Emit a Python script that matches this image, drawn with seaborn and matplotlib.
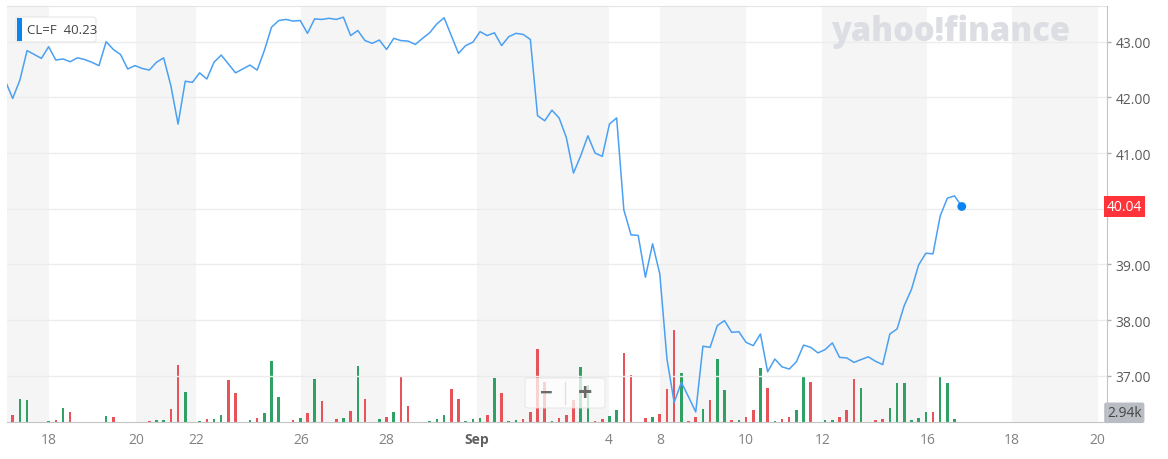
import numpy as np
import pandas as pd
import seaborn as sns
import matplotlib.pyplot as plt
from matplotlib.lines import Line2D
from matplotlib.patches import FancyBboxPatch, Rectangle

# CL=F, 4-hour bars (weekend gaps removed), Aug 17 - Sep 16
price = [42.29, 41.98, 42.31, 42.84, 42.77, 42.70, 42.91, 42.67, 42.69, 42.64,
         42.71, 42.68, 42.63, 42.57, 43.00, 42.86, 42.77, 42.51, 42.57, 42.52,
         42.49, 42.63, 42.71, 42.21, 41.52, 42.29, 42.27, 42.44, 42.33, 42.63,
         42.76, 42.60, 42.44, 42.51, 42.58, 42.49, 42.84, 43.26, 43.38, 43.40,
         43.37, 43.38, 43.15, 43.41, 43.40, 43.42, 43.40, 43.44, 43.11, 43.20,
         43.02, 42.97, 43.03, 42.86, 43.06, 43.02, 43.01, 42.95, 43.06, 43.16,
         43.32, 43.43, 43.11, 42.79, 42.93, 42.99, 43.18, 43.11, 43.16, 42.93,
         43.09, 43.15, 43.13, 43.04, 41.67, 41.58, 41.77, 41.63, 41.28, 40.64,
         40.95, 41.31, 41.00, 40.94, 41.52, 41.63, 39.98, 39.53, 39.52, 38.77,
         39.37, 38.83, 37.30, 36.52, 36.88, 36.62, 36.35, 37.53, 37.51, 37.90,
         37.99, 37.78, 37.79, 37.60, 37.54, 37.75, 37.07, 37.30, 37.16, 37.12,
         37.25, 37.55, 37.51, 37.41, 37.47, 37.59, 37.33, 37.32, 37.24, 37.29,
         37.34, 37.26, 37.20, 37.75, 37.84, 38.26, 38.55, 38.99, 39.20, 39.19,
         39.87, 40.19, 40.23, 40.04]

# volume in thousands (first point is off the left edge)
volume_k = [0,
            2.2, 7.4, 7.0, 0.1, 0.1, 0.3, 0.6, 4.5, 3.2, 0.1,
            0, 0, 0, 1.9, 1.6, 0, 0, 0, 0, 0.3,
            0.6, 0.6, 4.2, 18.2, 9.5, 0.1, 0.3, 1.0, 1.0, 2.2,
            13.3, 9.2, 0.1, 0.6, 1.3, 2.9, 19.5, 8.1, 0.1, 0.6,
            1.3, 2.9, 13.7, 6.8, 0.1, 1.0, 1.3, 3.5, 17.8, 7.5,
            0.1, 1.0, 1.6, 3.3, 14.6, 5.2, 0.1, 0.1, 0.3, 1.0,
            2.2, 10.5, 7.5, 0.3, 1.0, 1.3, 2.2, 14.0, 9.2, 0.3,
            0.6, 1.0, 3.3, 23.4, 12.9, 0.3, 1.3, 2.2, 7.0, 17.7,
            11.8, 0.3, 1.0, 1.8, 3.8, 22.0, 14.9, 0.1, 1.2, 1.6,
            2.5, 10.7, 29.3, 15.8, 0.3, 1.6, 4.1, 7.0, 20.3, 10.2,
            0.5, 0.5, 1.5, 3.8, 17.4, 11.0, 0.2, 0.9, 1.5, 3.8,
            14.8, 12.7, 0.1, 0.5, 0.5, 1.5, 3.8, 13.9, 10.9, 0.1,
            0.5, 0.9, 4.4, 12.6, 12.6, 0.5, 1.2, 3.2, 3.2, 14.5,
            12.4, 0.9, 0.1]

tick_pos = [6.05, 18.15, 26.5, 41.1, 52.9, 65.6, 83.9, 91.0, 103.0, 113.6, 128.2, 140.0, 151.9]
tick_labels = ['18', '20', '22', '26', '28', 'Sep', '4', '8', '10', '12', '16', '18', '20']
price_ticks = [37, 38, 39, 40, 41, 42, 43]

df = pd.DataFrame({'x': np.arange(len(price)), 'price': price, 'vol': volume_k})
df['dir'] = np.where(df['price'].diff().fillna(1) >= 0, 'up', 'down')

sns.set_style("white")
plt.rcParams['font.family'] = ['Open Sans', 'DejaVu Sans']

fig = plt.figure(figsize=(11.68, 4.6), dpi=100)
ax = fig.add_axes([7/1168, 37/460, 1100/1168, 416/460])
xmin, xmax = 0.21, 153.2

# alternating day bands
edges = [xmin] + tick_pos
for a, b in zip(edges[0::2], edges[1::2]):
    ax.axvspan(a, b, color='#f5f5f5', lw=0, zorder=0)

sns.barplot(data=df, x='x', y='vol', hue='dir', native_scale=True, dodge=False,
            palette={'up': '#1cb463', 'down': '#ff3a43'}, width=0.36,
            errorbar=None, legend=False, linewidth=0, ax=ax, zorder=2)
ax.set_xlim(xmin, xmax)
ax.set_ylim(0, 133)
ax.set_yticks([])
ax.set_xticks(tick_pos)
ax.set_xticklabels(tick_labels)
ax.tick_params(axis='x', length=4, width=1, color='#b8b8b8', pad=3,
               labelsize=10, labelcolor='#828282')
for lab in ax.get_xticklabels():
    if lab.get_text() == 'Sep':
        lab.set_fontweight('bold')
        lab.set_color('#606060')
ax.set_xlabel('')
ax.set_ylabel('')
for s in ['left', 'right']:
    ax.spines[s].set_visible(False)
ax.spines['top'].set_color('#e4e4e4')
ax.spines['bottom'].set_color('#c4c4c4')

# price on the right axis
ax2 = ax.twinx()
ax2.set_ylim(36.169, 43.641)
ax2.set_yticks(price_ticks)
ax2.set_yticklabels(['' if v == 40 else f'{v:.2f}' for v in price_ticks])
ax2.tick_params(axis='y', length=3, width=1, color='#b0b0b0', pad=3,
                labelsize=10, labelcolor='#5a5a5a')
ax2.yaxis.grid(True, color='#ececec', lw=1)
ax2.set_axisbelow(True)
for s in ['left', 'top', 'bottom']:
    ax2.spines[s].set_visible(False)
ax2.spines['right'].set_color('#c4c4c4')

sns.lineplot(data=df, x='x', y='price', color='#4aa0f2', lw=1.1, ax=ax2, zorder=3)
sns.scatterplot(x=[df['x'].iloc[-1]], y=[price[-1]], color='#0a84f0', s=40,
                edgecolor='none', ax=ax2, zorder=4)
ax2.set_xlim(xmin, xmax)
ax2.set_xlabel('')
ax2.set_ylabel('')

# last price and volume tags
ax2.text(1.0, price[-1], f'{price[-1]:.2f}', transform=ax2.get_yaxis_transform(),
         ha='left', va='center', color='white', fontsize=10,
         bbox=dict(boxstyle='square,pad=0.22', fc='#ff333a', ec='none'))
ax.text(1.0, 2.94, '2.94k', transform=ax.get_yaxis_transform(),
        ha='left', va='center', color='#464646', fontsize=10,
        bbox=dict(boxstyle='round,pad=0.2,rounding_size=0.15', fc='#b9bcc3', ec='none'))

# watermark
fig.text(1070/1168, 1 - 32/460, 'yahoo!finance', ha='right', va='center',
         fontsize=23.5, fontweight='heavy', color='#dcdee3', family='Open Sans')

# tooltip box
fig.patches.append(FancyBboxPatch((16/1168, 1 - 43/460), 80/1168, 25/460,
                                  boxstyle='round,pad=0,rounding_size=0.004',
                                  transform=fig.transFigure, fc='white',
                                  ec='#e6e6e6', lw=0.8, zorder=5))
fig.patches.append(Rectangle((17/1168, 1 - 42/460), 5/1168, 23/460,
                             transform=fig.transFigure, fc='#0a84f0', ec='none', zorder=6))
fig.text(27/1168, 1 - 31/460, 'CL=F  40.23', ha='left', va='center',
         fontsize=9.5, color='#444444', zorder=7)

# zoom control
fig.patches.append(FancyBboxPatch((525/1168, 1 - 409/460), 80/1168, 30/460,
                                  boxstyle='round,pad=0,rounding_size=0.004',
                                  transform=fig.transFigure, fc='white', alpha=0.75,
                                  ec='#e2e2e2', lw=0.8, zorder=5))
fig.lines.append(Line2D([565/1168, 565/1168], [1 - 405/460, 1 - 383/460],
                        transform=fig.transFigure, color='#e0e0e0', lw=1, zorder=6))
fig.text(545/1168, 1 - 394/460, '−', ha='center', va='center', fontsize=16,
         fontweight='bold', color='#6a6a6a', zorder=7)
fig.text(585/1168, 1 - 394/460, '+', ha='center', va='center', fontsize=18,
         fontweight='bold', color='#6a6a6a', zorder=7)

fig.savefig('out.png', dpi=100)
